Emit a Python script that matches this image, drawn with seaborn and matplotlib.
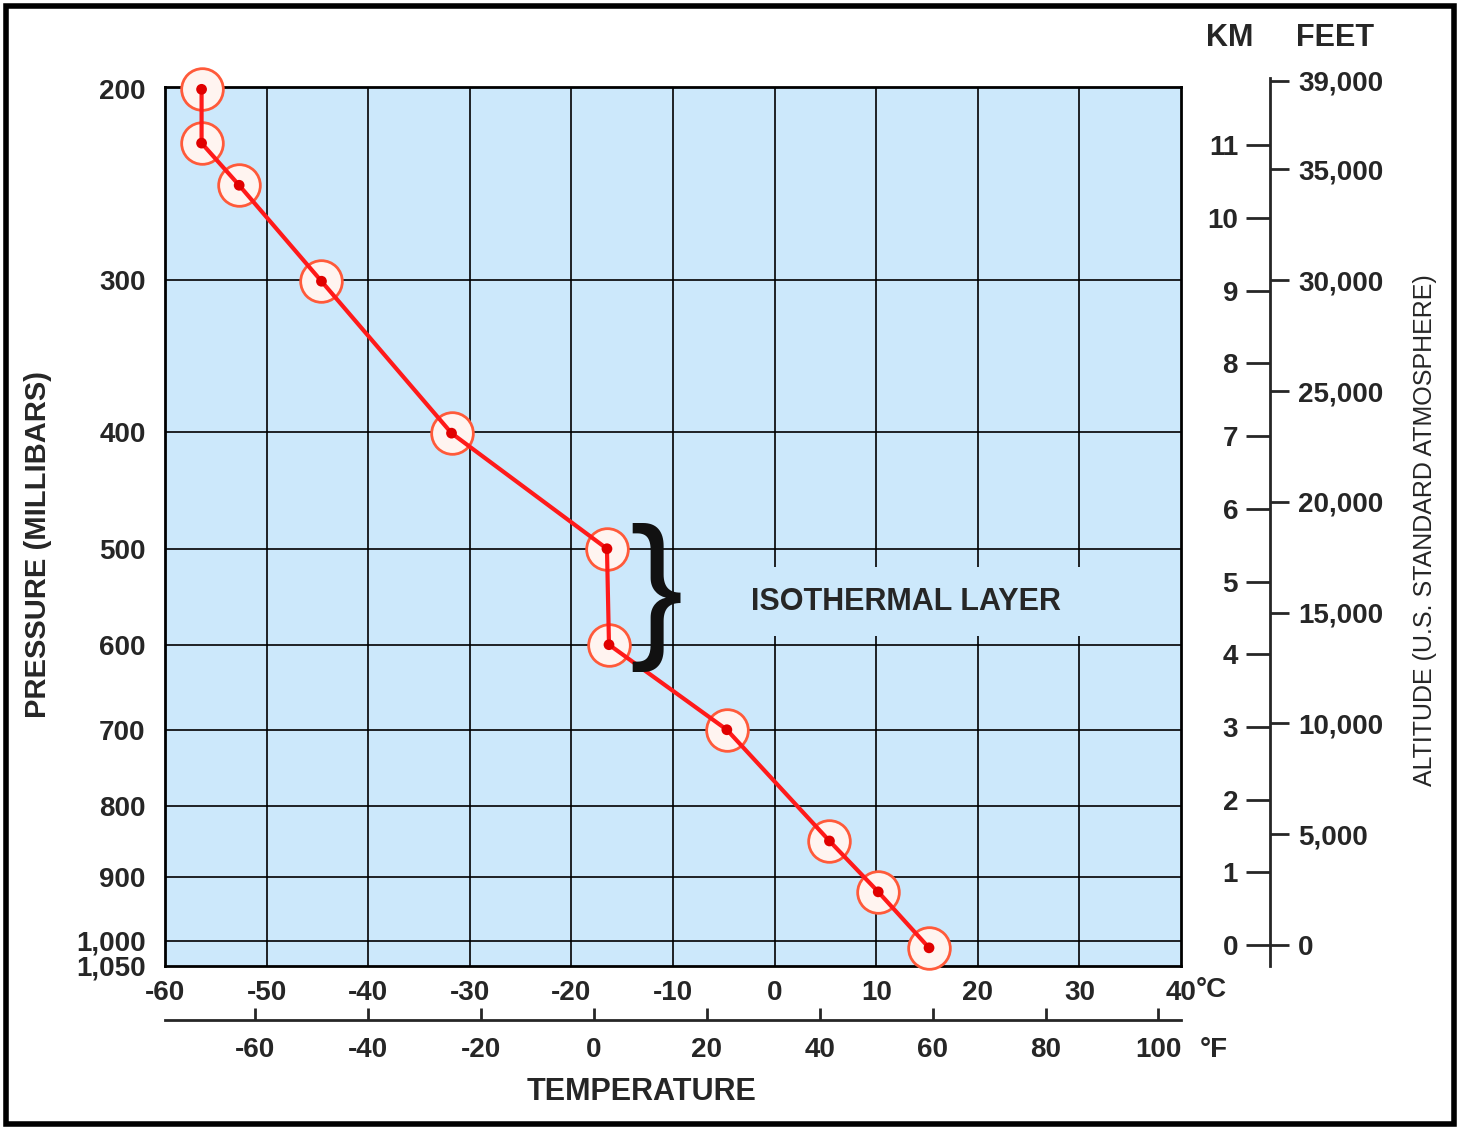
import numpy as np
import matplotlib
matplotlib.use("Agg")
import matplotlib.pyplot as plt
import seaborn as sns
from matplotlib.patches import Rectangle

sns.set_style("white")
plt.rcParams['font.family'] = ['Liberation Sans', 'DejaVu Sans']

# data
temp_c = [-56.4, -56.4, -52.7, -44.6, -31.8, -16.5, -16.3, -4.7, 5.4, 10.2, 15.2]
alt_km = [11.77, 11.03, 10.45, 9.13, 7.04, 5.45, 4.13, 2.96, 1.43, 0.73, -0.04]
point_idx = list(range(len(temp_c)))
press_km = [11.77, 9.15, 7.06, 5.45, 4.13, 2.96, 1.91, 0.94, 0.06, -0.29]
press_text = ["200", "300", "400", "500", "600", "700", "800", "900", "1,000", "1,050"]
km_ticks = list(range(0, 12))
ft_ticks = [0, 5000, 10000, 15000, 20000, 25000, 30000, 35000, 39000]
c_ticks = list(range(-60, 41, 10))
f_ticks = list(range(-60, 101, 20))

PX_PER_KM = 72.7
fig = plt.figure(figsize=(14.6, 11.3), dpi=100)
ax = fig.add_axes([165/1460, 1-966/1130, 1016/1460, (966-87)/1130])
ax.set_facecolor('#cce8fb')
ax.set_xlim(-60, 40)
ax.set_ylim(-0.29, (945-87)/PX_PER_KM)

for c in c_ticks[1:-1]:
    ax.axvline(c, color='black', lw=1.2, zorder=1)
for h in press_km[1:-1]:
    ax.axhline(h, color='black', lw=1.2, zorder=1)

bold = dict(fontweight='bold', fontsize=20)
ax.set_xticks(c_ticks)
ax.set_xticklabels([str(c) for c in c_ticks], **bold)
ax.set_yticks(press_km)
ax.set_yticklabels(press_text, **bold)
ax.tick_params(axis='x', length=0, pad=10)
ax.tick_params(axis='y', length=0, pad=14)
for s in ax.spines.values():
    s.set_linewidth(2); s.set_color('black')

sns.scatterplot(x=temp_c, y=alt_km, ax=ax, s=900, facecolor='#fff4f0',
                edgecolor='#ff5a3a', linewidth=2, zorder=3, legend=False, clip_on=False)
ax.plot(temp_c, alt_km, color='#ff1a1a', lw=3, zorder=4, clip_on=False)
sns.scatterplot(x=temp_c, y=alt_km, ax=ax, s=60, color='#e00000', edgecolor='none',
                zorder=5, legend=False, clip_on=False)

ax.set_ylabel("")
ax.set_xlabel("")
fig.text(38/1460, 1-545/1130, "PRESSURE (MILLIBARS)", fontsize=21, fontweight='bold',
         rotation=90, ha='center', va='center')

# isothermal annotation
ax.text(-14.3, 4.78, "}", fontsize=115, va='center', ha='left', fontweight='light', zorder=6,
        color='#111111')
ax.text(-2.3, 4.72, "ISOTHERMAL LAYER", fontsize=22, fontweight='bold', va='center', ha='left',
        zorder=6, bbox=dict(facecolor='#cce8fb', edgecolor='none', pad=14))
fig.text(1196/1460, 1-990/1130, "°C", fontsize=20, fontweight='bold', va='center', ha='left')

# Fahrenheit axis
secx = ax.secondary_xaxis(-54/879, functions=(lambda c: c*9/5+32, lambda f: (f-32)*5/9))
secx.set_xticks(f_ticks)
secx.set_xticklabels([str(f) for f in f_ticks], **bold)
secx.tick_params(direction='in', length=9, width=2, pad=12)
secx.spines['bottom'].set_linewidth(2)
fig.text(1200/1460, 1-1050/1130, "°F", fontsize=20, fontweight='bold', va='center')
fig.text(642/1460, 1-1092/1130, "TEMPERATURE", fontsize=22, fontweight='bold',
         ha='center', va='center')

# altitude axes (standalone, extends above the chart)
top_px, bot_px = 78, 966
alt = fig.add_axes([1270/1460, 1-bot_px/1130, 0.0001, (bot_px-top_px)/1130])
alt.set_ylim((945-bot_px)/PX_PER_KM, (945-top_px)/PX_PER_KM)
alt.set_xticks([])
for side in ['top', 'bottom', 'right']:
    alt.spines[side].set_visible(False)
alt.spines['left'].set_linewidth(2)
alt.set_yticks(km_ticks)
alt.set_yticklabels([str(k) for k in km_ticks], **bold)
alt.tick_params(axis='y', direction='out', length=17, width=2, pad=6)
alt.patch.set_visible(False)

ft = alt.twinx()
ft.set_ylim(alt.get_ylim()[0]*3280.84, alt.get_ylim()[1]*3280.84)
for side in ['top', 'bottom', 'left', 'right']:
    ft.spines[side].set_visible(False)
ft.set_yticks(ft_ticks)
ft.set_yticklabels([f"{v:,}" for v in ft_ticks], **bold)
ft.tick_params(axis='y', direction='out', length=14, width=2, pad=6)

fig.text(1425/1460, 1-530/1130, "ALTITUDE (U.S. STANDARD ATMOSPHERE)", fontsize=18,
         rotation=90, ha='center', va='center')
fig.text(1230/1460, 1-38/1130, "KM", fontsize=22, fontweight='bold', ha='center', va='center')
fig.text(1335/1460, 1-38/1130, "FEET", fontsize=22, fontweight='bold', ha='center', va='center')

fig.patches.append(Rectangle((6/1460, 6/1130), 1448/1460, 1118/1130, transform=fig.transFigure,
                             fill=False, edgecolor='black', lw=4))

fig.savefig("out.png", dpi=100, facecolor='white')
